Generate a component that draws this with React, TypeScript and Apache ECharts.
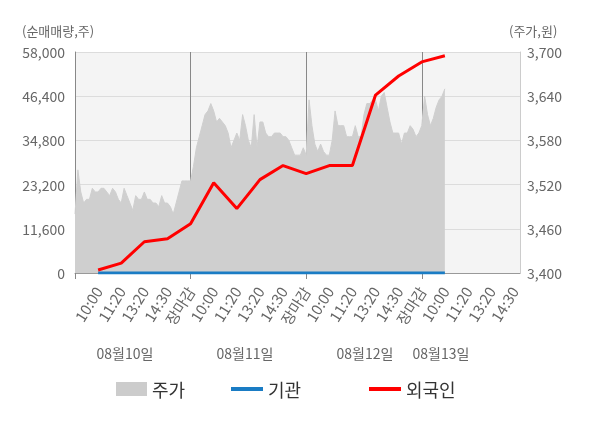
import React, { useEffect, useRef } from 'react';
import * as echarts from 'echarts';

// ---- data ----
const dateLabels = ['08월10일', '08월11일', '08월12일', '08월13일'];
const sessionLabels = ['10:00', '11:20', '13:20', '14:30', '장마감'];
const POINTS_PER_SLOT = 8;
const TOTAL_POINTS = 155;

// 주가 (price, won) – intraday samples
const priceDay1 = [
  3480, 3540, 3510, 3495, 3500, 3500, 3515, 3510, 3510, 3515, 3515, 3510, 3505, 3515,
  3510, 3500, 3495, 3515, 3505, 3495, 3485, 3505, 3500, 3500, 3510, 3500, 3500, 3495,
  3495, 3490, 3505, 3495, 3495, 3490, 3480, 3495, 3510, 3525, 3525, 3525, 3525,
];
const priceDay2 = [
  3545, 3570, 3585, 3600, 3615, 3620, 3630, 3620, 3605, 3610, 3605, 3600, 3590, 3570,
  3580, 3590, 3580, 3615, 3600, 3580, 3570, 3615, 3570, 3605, 3605, 3590, 3585, 3585,
  3590, 3590, 3590, 3585, 3585, 3580, 3570, 3560, 3560, 3560, 3570, 3560,
];
const priceDay3 = [
  3635, 3600, 3575, 3565, 3575, 3565, 3560, 3560, 3580, 3620, 3600, 3600, 3600, 3585,
  3585, 3585, 3600, 3585, 3585, 3615, 3630, 3630, 3635, 3635, 3620, 3640, 3645, 3625,
  3605, 3590, 3590, 3590, 3575, 3590, 3590, 3600, 3595, 3585, 3590, 3600,
];
const priceDay4 = [3640, 3615, 3600, 3610, 3625, 3635, 3640, 3650];

// 순매매량 (cumulative net volume, shares) at each labelled tick
const foreignNet = [
  800, 2600, 8200, 9000, 12900, 23700, 16900, 24500, 28200, 26100, 28200, 28200,
  46700, 51700, 55400, 57000,
];
const institutionNet = [0, 0, 0, 0, 0, 0, 0, 0, 0, 0, 0, 0, 0, 0, 0, 0];

const leftAxis = { min: 0, max: 58000, interval: 11600 };
const rightAxis = { min: 3400, max: 3700, interval: 60 };

const FONT = '"Noto Sans CJK KR", "Noto Sans", sans-serif';

function labelAt(i: number): string {
  if (i <= 0 || i % POINTS_PER_SLOT !== 0) return '';
  const k = i / POINTS_PER_SLOT - 1;
  return sessionLabels[k % sessionLabels.length];
}

export default function App() {
  const ref = useRef<HTMLDivElement>(null);
  useEffect(() => {
    if (!ref.current) return;
    const chart = echarts.init(ref.current, undefined, { renderer: 'svg' });

    const categories: string[] = [];
    for (let i = 0; i < TOTAL_POINTS; i++) categories.push('p' + i);

    const prices = [...priceDay1, ...priceDay2, ...priceDay3, ...priceDay4];
    const priceData: (number | null)[] = categories.map((_, i) =>
      i < prices.length ? prices[i] : null
    );
    const foreignData: (number | null)[] = categories.map(() => null);
    const instData: (number | null)[] = categories.map(() => null);
    foreignNet.forEach((v, k) => {
      foreignData[(k + 1) * POINTS_PER_SLOT] = v;
    });
    institutionNet.forEach((v, k) => {
      instData[(k + 1) * POINTS_PER_SLOT] = v;
    });
    const dayPoints = POINTS_PER_SLOT * sessionLabels.length;
    const lastIdx = prices.length - 1;

    const fmt = (v: number) => v.toLocaleString('en-US');
    const legendText = { fontSize: 18, color: '#333', fontFamily: FONT };

    chart.setOption({
      animation: false,
      textStyle: { fontFamily: FONT },
      grid: {
        left: 75,
        right: 80,
        top: 52,
        bottom: 155,
        show: true,
        backgroundColor: '#f4f4f4',
        borderWidth: 0,
      },
      legend: [
        {
          data: [{ name: '주가', icon: 'rect' }],
          left: 111,
          top: 375,
          itemWidth: 31,
          itemHeight: 14,
          itemGap: 8,
          textStyle: legendText,
          selectedMode: false,
        },
        {
          data: [{ name: '기관', icon: 'rect' }],
          left: 226,
          top: 375,
          itemWidth: 32,
          itemHeight: 4,
          textStyle: legendText,
          selectedMode: false,
        },
        {
          data: [{ name: '외국인', icon: 'rect' }],
          left: 364,
          top: 375,
          itemWidth: 32,
          itemHeight: 4,
          textStyle: legendText,
          selectedMode: false,
        },
      ],
      xAxis: {
        type: 'category',
        data: categories,
        boundaryGap: false,
        axisLine: { lineStyle: { color: '#999', width: 1 } },
        axisTick: {
          show: true,
          interval: (i: number) => i % dayPoints === 0,
          length: 6,
          lineStyle: { color: '#888' },
        },
        splitLine: {
          show: true,
          interval: (i: number) => i % dayPoints === 0 && i > 0,
          lineStyle: { color: '#888', width: 1 },
        },
        axisLabel: {
          interval: (i: number) => labelAt(i) !== '',
          formatter: (_v: string, i: number) => labelAt(i),
          rotate: 58,
          fontSize: 15,
          margin: 15,
          fontFamily: FONT,
          color: (_v: string, i: number) => {
            const t = labelAt(i);
            if (t === '장마감') return '#ff0000';
            if (i === lastIdx) return '#222';
            return '#666';
          },
        },
      },
      yAxis: [
        {
          type: 'value',
          ...leftAxis,
          axisLine: { show: true, lineStyle: { color: '#888' } },
          axisTick: { show: false },
          splitLine: { show: true, lineStyle: { color: '#dcdcdc' } },
          axisLabel: { color: '#666', fontSize: 14, margin: 10, formatter: fmt, fontFamily: FONT },
        },
        {
          type: 'value',
          ...rightAxis,
          axisLine: { show: true, lineStyle: { color: '#ccc' } },
          axisTick: { show: false },
          splitLine: { show: false },
          axisLabel: { color: '#666', fontSize: 14, margin: 7, formatter: fmt, fontFamily: FONT },
        },
      ],
      graphic: [
        {
          type: 'text',
          left: 22,
          top: 24,
          style: { text: '(순매매량,주)', fill: '#666', font: `13px ${FONT}` },
        },
        {
          type: 'text',
          left: 509,
          top: 24,
          style: { text: '(주가,원)', fill: '#666', font: `13px ${FONT}` },
        },
        ...[125, 245, 365, 441].map((x, k) => ({
          type: 'text',
          x,
          y: 353,
          style: {
            text: dateLabels[k],
            fill: '#666',
            font: `14px ${FONT}`,
            align: 'center',
            verticalAlign: 'middle',
          },
        })),
      ],
      series: [
        {
          name: '주가',
          type: 'line',
          yAxisIndex: 1,
          data: priceData,
          symbol: 'none',
          itemStyle: { color: '#cccccc' },
          lineStyle: { color: '#cfcfcf', width: 1 },
          areaStyle: { color: '#cfcfcf', opacity: 1 },
          z: 1,
        },
        {
          name: '기관',
          type: 'line',
          yAxisIndex: 0,
          data: instData,
          connectNulls: true,
          symbol: 'none',
          itemStyle: { color: '#1a7cc4' },
          lineStyle: { color: '#1a7cc4', width: 3 },
          z: 3,
        },
        {
          name: '외국인',
          type: 'line',
          yAxisIndex: 0,
          data: foreignData,
          connectNulls: true,
          symbol: 'none',
          itemStyle: { color: '#ff0000' },
          lineStyle: { color: '#ff0000', width: 3 },
          z: 4,
        },
      ],
    });
    return () => chart.dispose();
  }, []);
  return (
    <div
      ref={ref}
      style={{ position: 'fixed', left: 0, top: 0, width: 600, height: 428 }}
    />
  );
}
